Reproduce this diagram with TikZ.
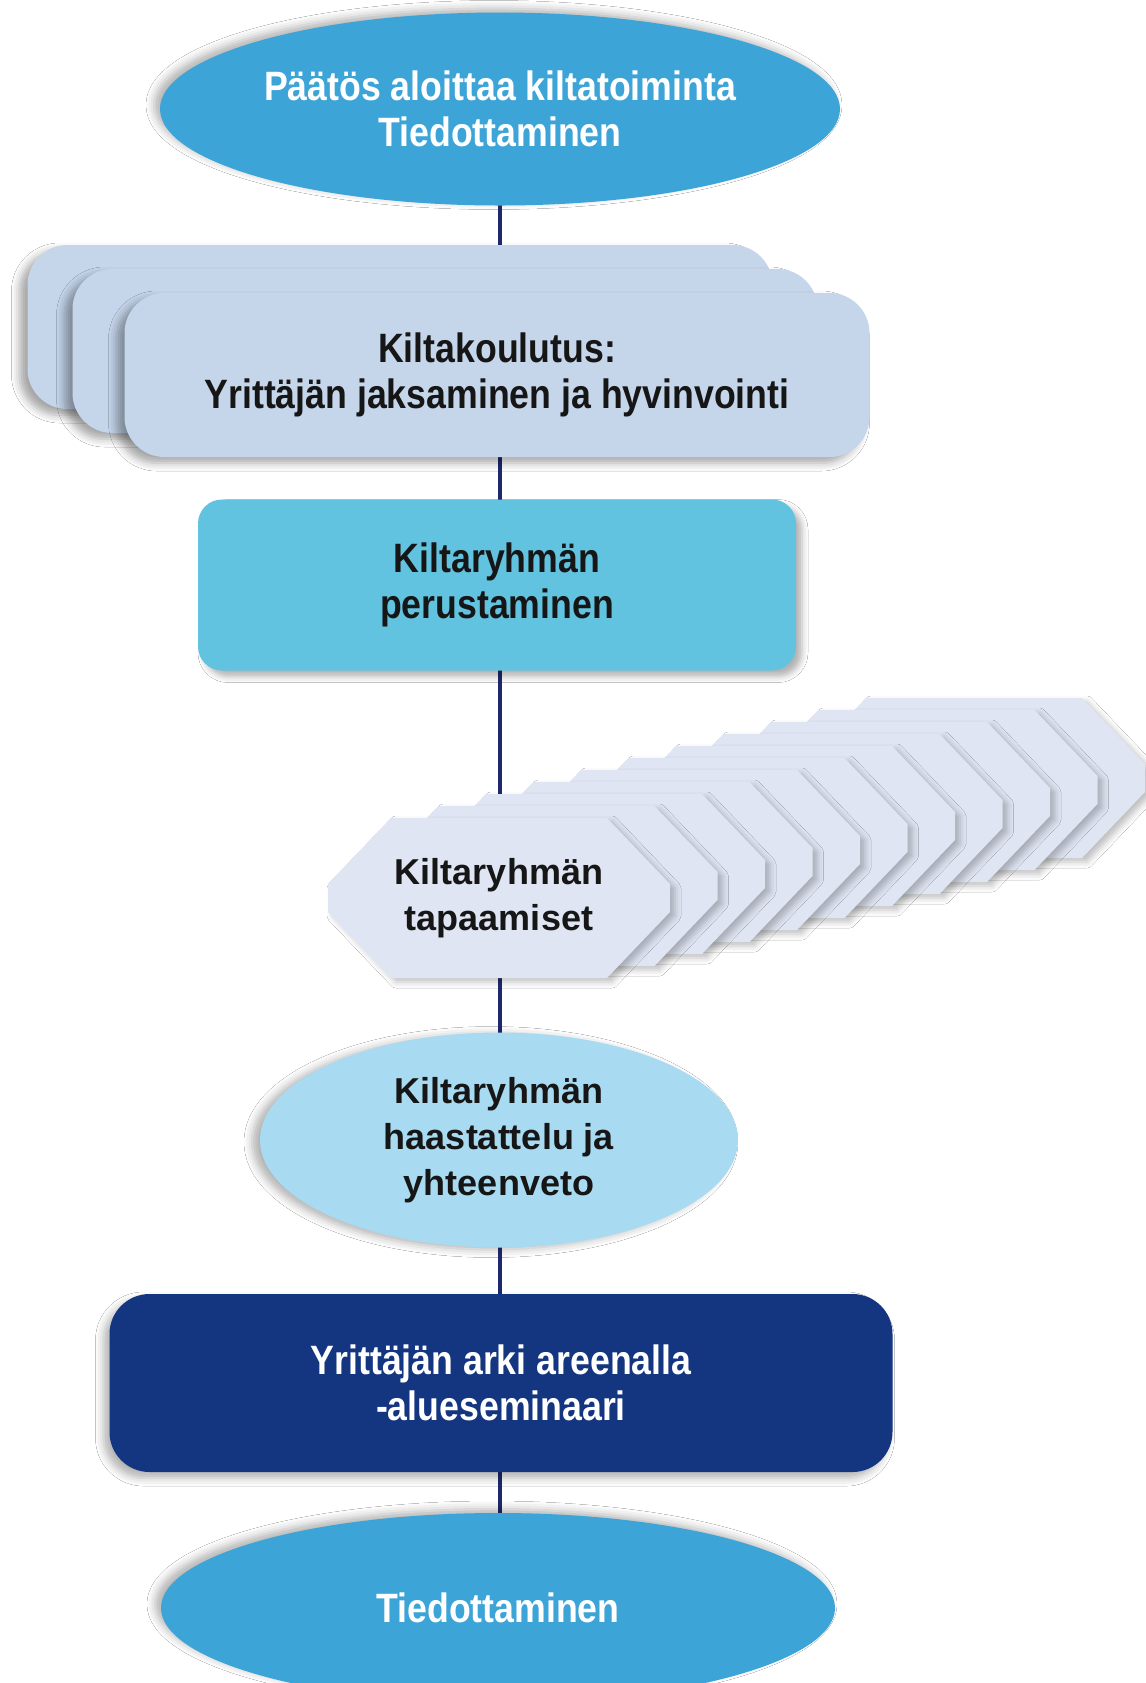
\documentclass[tikz,border=0pt]{standalone}
\usepackage{fontspec}
\setmainfont{Liberation Sans}
\newfontfamily\condfont{Liberation Sans}[FakeStretch=0.87]
\usetikzlibrary{shapes.geometric,shadows.blur}
\pgfdeclarelayer{background}
\pgfsetlayers{background,main}
\definecolor{ellC}{RGB}{61,164,216}
\definecolor{cyanC}{RGB}{97,195,223}
\definecolor{stackC}{RGB}{197,213,234}
\definecolor{octC}{RGB}{224,229,243}
\definecolor{haasC}{RGB}{168,218,241}
\definecolor{navyC}{RGB}{20,53,127}
\definecolor{lineC}{RGB}{30,40,110}
\definecolor{txtC}{RGB}{22,22,22}
\begin{document}
\begin{tikzpicture}[x=0.5pt,y=-0.5pt,
  conn/.style={draw=lineC, line width=2pt},
  condtxt/.style={font=\condfont\bfseries\fontsize{20.5}{23}\selectfont, align=center},
  regtxt/.style={font=\bfseries\fontsize{18}{23}\selectfont, align=center, text=txtC},
  ovalbox/.style={ellipse, inner sep=0pt},
  stackbox/.style={rectangle, rounded corners=20pt, fill=stackC, minimum width=372.5pt, minimum height=82pt,
    blur shadow={shadow xshift=-4pt, shadow yshift=-3pt, shadow blur radius=4pt, shadow opacity=35}},
  octa/.style={fill=octC, blur shadow={shadow xshift=2.5pt, shadow yshift=-2pt, shadow blur radius=3pt, shadow opacity=25}}]
\useasboundingbox (0,0) rectangle (1146,1683);
\begin{scope}
\clip (0,0) rectangle (1146,1683);

% top ellipse
\node[ovalbox, fill=ellC, text=white, condtxt, minimum width=340pt, minimum height=96.5pt,
  blur shadow={shadow xshift=-3pt, shadow yshift=2pt, shadow blur radius=4pt, shadow opacity=30}] (top) at (500,109)
  {Päätös aloittaa kiltatoiminta\\Tiedottaminen};

% stacked training boxes
\node[stackbox] (kilta3) at (400,327) {};
\node[stackbox] (kilta2) at (445,351) {};
\node[stackbox, condtxt, text=txtC] (kilta) at (497,375) {Kiltakoulutus:\\Yrittäjän jaksaminen ja hyvinvointi};

% founding box
\node[rectangle, rounded corners=12pt, fill=cyanC, minimum width=299pt, minimum height=85.5pt,
  condtxt, text=txtC,
  blur shadow={shadow xshift=3pt, shadow yshift=-3pt, shadow blur radius=3pt, shadow opacity=30}] (perus) at (497,585)
  {Kiltaryhmän\\perustaminen};

% stacked meeting octagons
\foreach \k in {10,9,...,0}{
  \begin{scope}[shift={(47.5*\k,-12*\k)}]
    \path[octa] (328,884) -- (391,818) -- (607,818) -- (670,884) -- (670,912)
      -- (607,978) -- (391,978) -- (328,912) -- cycle;
  \end{scope}
}
\node[regtxt, minimum width=171pt, minimum height=80pt] (meet) at (499,898) {Kiltaryhmän\\tapaamiset};

% interview ellipse
\node[ovalbox, fill=haasC, regtxt, minimum width=239pt, minimum height=107.5pt,
  blur shadow={shadow xshift=-4pt, shadow yshift=-1pt, shadow blur radius=4pt, shadow opacity=30}] (haas) at (499,1140)
  {Kiltaryhmän\\haastattelu ja\\yhteenveto};

% seminar box
\node[rectangle, rounded corners=20pt, fill=navyC, minimum width=391.5pt, minimum height=89pt,
  condtxt, text=white,
  blur shadow={shadow xshift=-3pt, shadow yshift=-3pt, shadow blur radius=4pt, shadow opacity=30}] (semi) at (501,1383)
  {Yrittäjän arki areenalla\\-alueseminaari};

% bottom ellipse
\node[ovalbox, fill=ellC, text=white, condtxt, minimum width=337pt, minimum height=95pt,
  blur shadow={shadow xshift=-3pt, shadow yshift=2pt, shadow blur radius=4pt, shadow opacity=30}] (bot) at (498,1608)
  {Tiedottaminen};

\begin{pgfonlayer}{background}
  \fill[white] (0,0) rectangle (1146,1683);
  \draw[conn] (top.center) -- (top.center |- kilta.center);
  \draw[conn] (top.center |- kilta.center) -- (top.center |- perus.center);
  \draw[conn] (top.center |- perus.center) -- (top.center |- meet.center);
  \draw[conn] (top.center |- meet.center) -- (top.center |- haas.center);
  \draw[conn] (top.center |- haas.center) -- (top.center |- semi.center);
  \draw[conn] (top.center |- semi.center) -- (top.center |- bot.center);
\end{pgfonlayer}
\end{scope}
\end{tikzpicture}
\end{document}
